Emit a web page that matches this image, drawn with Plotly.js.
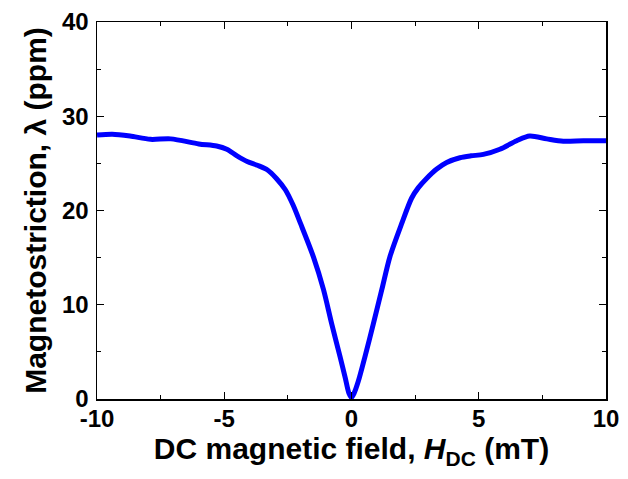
<!DOCTYPE html>
<html>
<head>
<meta charset="utf-8">
<script src="https://cdn.plot.ly/plotly-3.0.1.min.js"></script>
<style>html,body{margin:0;padding:0;background:#fff;}#chart{width:628px;height:479px;}</style>
</head>
<body>
<div id="chart"></div>
<script>
const fieldMT = [-10, -9.4, -8.7, -7.9, -7.1, -6.0, -5.3, -4.9, -4.5, -4.1, -3.7, -3.3, -2.95, -2.6, -2.3, -2.0, -1.5, -1.1, -0.78, -0.45, -0.25, -0.1, 0, 0.1, 0.27, 0.53, 0.86, 1.19, 1.51, 1.97, 2.36, 2.62, 2.95, 3.35, 3.74, 4.26, 4.7, 5.18, 5.83, 6.49, 7.0, 7.67, 8.32, 9.11, 10];
const lambdaPpm = [28.0, 28.1, 27.9, 27.55, 27.6, 27.06, 26.84, 26.5, 25.8, 25.2, 24.8, 24.3, 23.4, 22.2, 20.6, 18.6, 15.1, 11.6, 8.0, 4.5, 2.3, 0.6, 0.15, 0.6, 1.9, 4.5, 8.0, 11.6, 15.1, 18.6, 21.3, 22.4, 23.4, 24.4, 25.1, 25.6, 25.8, 25.95, 26.5, 27.4, 27.9, 27.6, 27.35, 27.4, 27.4];
const xTicks = [-10, -5, 0, 5, 10];
const yTicks = [0, 10, 20, 30, 40];

const font = 'Liberation Sans, Arial, sans-serif';
const trace = {
  x: fieldMT, y: lambdaPpm, type: 'scatter', mode: 'lines',
  line: {color: '#0000ff', width: 5, shape: 'spline', smoothing: 0.8},
  hoverinfo: 'skip'
};
const axisCommon = {
  showgrid: false, zeroline: false, showline: true, linecolor: '#000', linewidth: 1.5,
  mirror: 'ticks', ticks: 'inside', ticklen: 7, tickwidth: 1.3, tickcolor: '#000',
  tickfont: {family: font, size: 24, color: '#000', weight: 'bold'}
};
const layout = {
  width: 628, height: 479,
  margin: {l: 97, r: 22, t: 22, b: 80},
  paper_bgcolor: '#fff', plot_bgcolor: '#fff',
  showlegend: false,
  xaxis: Object.assign({}, axisCommon, {
    range: [-10, 10], tickvals: xTicks, ticktext: xTicks.map(String),
    ticklabelstandoff: -2,
    minor: {dtick: 2.5, tick0: 0, ticks: 'inside', ticklen: 4, tickcolor: '#000', tickwidth: 1.2},
    title: {text: '<b>DC magnetic field, <i>H</i><sub>DC</sub> (mT)</b>', font: {family: font, size: 30, color: '#000'}, standoff: 6}
  }),
  yaxis: Object.assign({}, axisCommon, {
    range: [0, 40], tickvals: yTicks, ticktext: yTicks.map(String),
    ticklabelstandoff: 2,
    minor: {dtick: 5, tick0: 0, ticks: 'inside', ticklen: 4, tickcolor: '#000', tickwidth: 1.2},
    title: {text: '<b>Magnetostriction, λ (ppm)</b>', font: {family: font, size: 30, color: '#000'}, standoff: 6}
  })
};
Plotly.newPlot('chart', [trace], layout, {displayModeBar: false, staticPlot: true});
</script>
</body>
</html>
